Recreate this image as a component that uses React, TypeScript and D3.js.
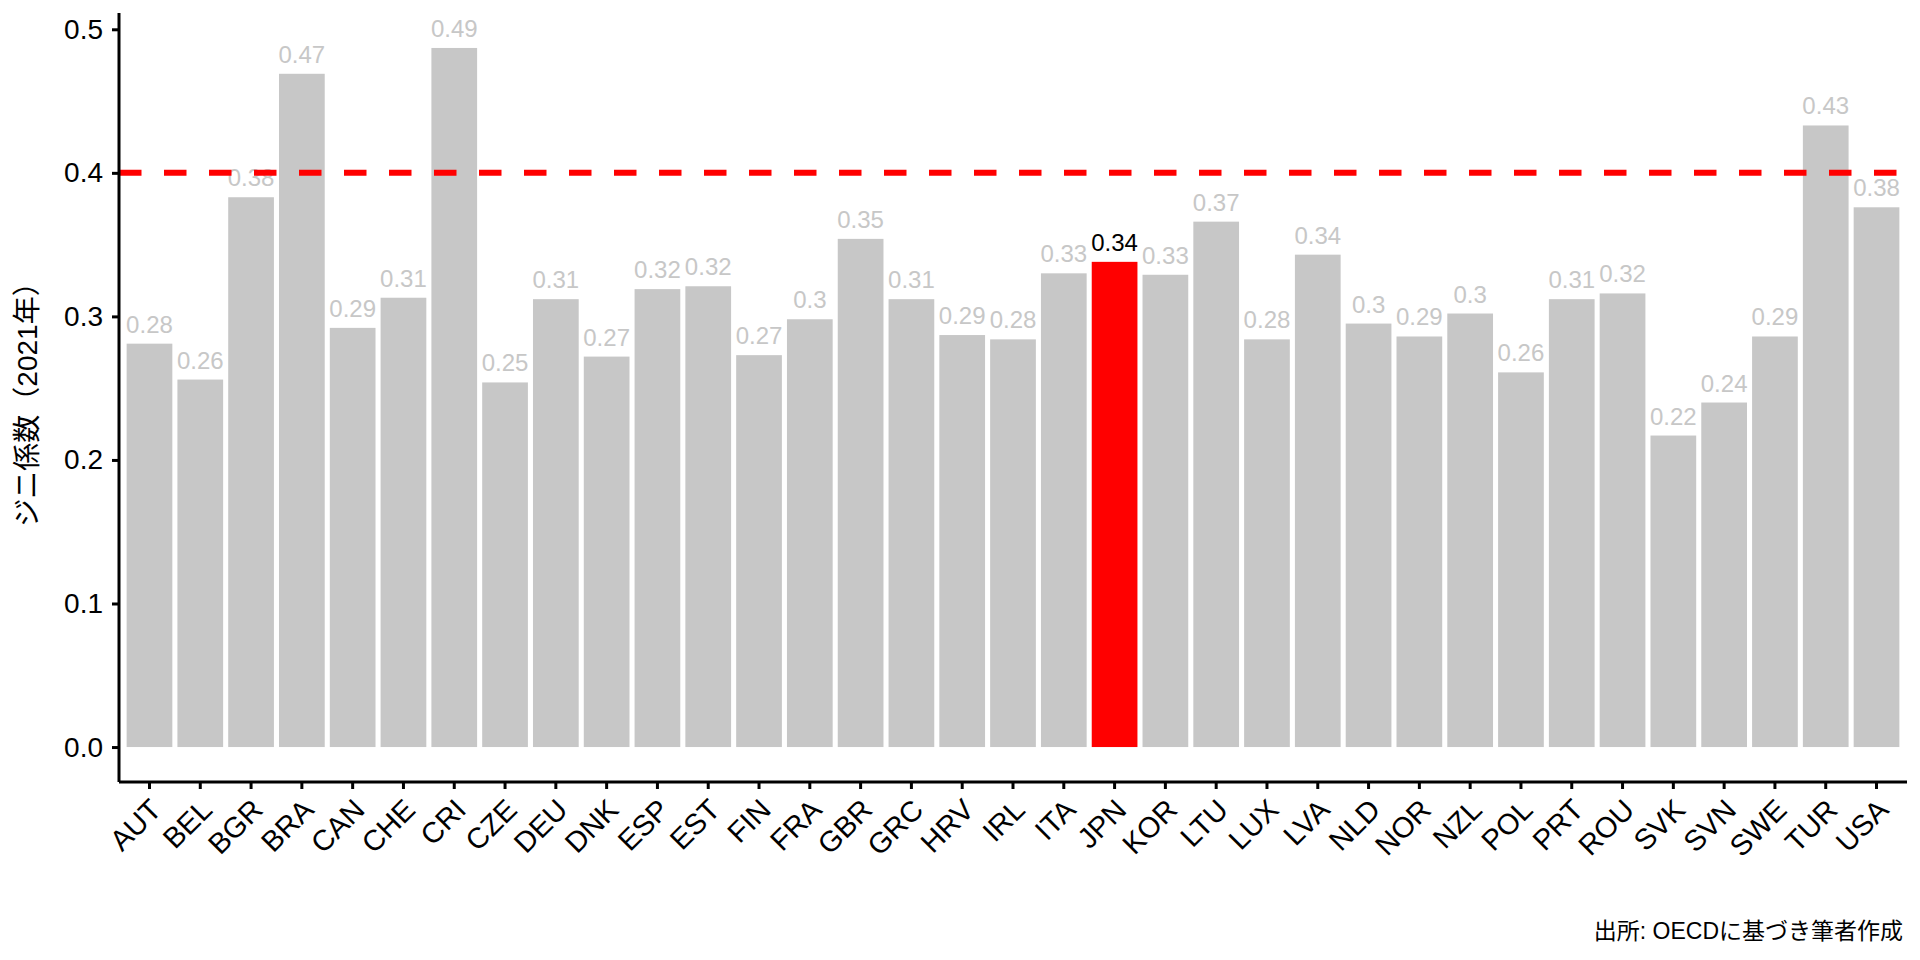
import * as d3 from 'd3';
import { useEffect, useRef } from 'react';

const countries = [
  'AUT', 'BEL', 'BGR', 'BRA', 'CAN', 'CHE', 'CRI', 'CZE', 'DEU', 'DNK',
  'ESP', 'EST', 'FIN', 'FRA', 'GBR', 'GRC', 'HRV', 'IRL', 'ITA', 'JPN',
  'KOR', 'LTU', 'LUX', 'LVA', 'NLD', 'NOR', 'NZL', 'POL', 'PRT', 'ROU',
  'SVK', 'SVN', 'SWE', 'TUR', 'USA',
];
const gini = [
  0.281, 0.256, 0.383, 0.469, 0.292, 0.313, 0.487, 0.254, 0.312, 0.272,
  0.319, 0.321, 0.273, 0.298, 0.354, 0.312, 0.287, 0.284, 0.330, 0.338,
  0.329, 0.366, 0.284, 0.343, 0.295, 0.286, 0.302, 0.261, 0.312, 0.316,
  0.217, 0.240, 0.286, 0.433, 0.376,
];
const yTicks = [0, 0.1, 0.2, 0.3, 0.4, 0.5];
const highlight = 'JPN';
const threshold = 0.4;
const yTitle = 'ジニ係数（2021年）';
const caption = '出所: OECDに基づき筆者作成';

const W = 1920;
const H = 960;
const FONT = '"Liberation Sans", "Noto Sans CJK JP", sans-serif';

export default function App() {
  const svgRef = useRef<SVGSVGElement>(null);

  useEffect(() => {
    if (!svgRef.current) return;
    document.body.style.margin = '0';
    const svg = d3.select(svgRef.current);
    svg.selectAll('*').remove();

    const left = 119;
    const right = 1907;
    const top = 13;
    const bottom = 782;

    const data = countries.map((c, i) => ({ country: c, value: gini[i] }));
    const maxV = d3.max(gini) || 0;

    const x = d3
      .scaleBand()
      .domain(countries)
      .range([left, right])
      .paddingInner(0.1)
      .paddingOuter(0.15);
    const y = d3
      .scaleLinear()
      .domain([-maxV * 0.05, maxV * 1.05])
      .range([bottom, top]);

    svg.append('rect').attr('width', W).attr('height', H).attr('fill', '#fff');

    // bars
    svg
      .append('g')
      .selectAll('rect')
      .data(data)
      .enter()
      .append('rect')
      .attr('x', (d) => x(d.country) || 0)
      .attr('y', (d) => y(d.value))
      .attr('width', x.bandwidth())
      .attr('height', (d) => y(0) - y(d.value))
      .attr('fill', (d) => (d.country === highlight ? '#ff0000' : '#c7c7c7'));

    // value labels
    svg
      .append('g')
      .selectAll('text')
      .data(data)
      .enter()
      .append('text')
      .attr('x', (d) => (x(d.country) || 0) + x.bandwidth() / 2)
      .attr('y', (d) => y(d.value) - 11)
      .attr('text-anchor', 'middle')
      .style('font-family', FONT)
      .style('font-size', '24px')
      .attr('fill', (d) => (d.country === highlight ? '#000' : '#c7c7c7'))
      .text((d) => String(Math.round(d.value * 100) / 100));

    // threshold line
    svg
      .append('line')
      .attr('x1', left)
      .attr('x2', right)
      .attr('y1', y(threshold))
      .attr('y2', y(threshold))
      .attr('stroke', '#ff0000')
      .attr('stroke-width', 6)
      .attr('stroke-dasharray', '22.5 22.5');

    // y axis
    const yAxis = svg
      .append('g')
      .attr('transform', `translate(${left},0)`)
      .call(
        d3
          .axisLeft(y)
          .tickValues(yTicks)
          .tickSize(7)
          .tickPadding(9)
          .tickFormat(d3.format('.1f')),
      );
    yAxis.select('.domain').attr('d', `M0,${top}V${bottom}`);
    yAxis.selectAll('line, path').attr('stroke', '#000').attr('stroke-width', 3);
    yAxis
      .selectAll('text')
      .style('font-family', FONT)
      .style('font-size', '28px')
      .attr('fill', '#000');

    // x axis
    const xAxis = svg
      .append('g')
      .attr('transform', `translate(0,${bottom})`)
      .call(d3.axisBottom(x).tickSize(7).tickSizeOuter(0));
    xAxis.select('.domain').attr('d', `M${left},0H${right}`);
    xAxis.selectAll('line, path').attr('stroke', '#000').attr('stroke-width', 3);
    xAxis
      .selectAll('text')
      .style('font-family', FONT)
      .style('font-size', '29px')
      .attr('fill', '#000')
      .attr('text-anchor', 'end')
      .attr('y', 0)
      .attr('dy', '0.71em')
      .attr('transform', 'translate(-1,15) rotate(-45)');

    // y title
    svg
      .append('text')
      .attr('transform', `translate(37,${(top + bottom) / 2}) rotate(-90)`)
      .attr('text-anchor', 'middle')
      .style('font-family', FONT)
      .style('font-size', '28px')
      .attr('fill', '#000')
      .text(yTitle);

    // caption
    svg
      .append('text')
      .attr('x', 1903)
      .attr('y', 939)
      .attr('text-anchor', 'end')
      .style('font-family', FONT)
      .style('font-size', '23px')
      .attr('fill', '#000')
      .text(caption);
  }, []);

  return (
    <svg
      ref={svgRef}
      width={W}
      height={H}
      style={{ display: 'block', position: 'absolute', left: 0, top: 0 }}
    ></svg>
  );
}
